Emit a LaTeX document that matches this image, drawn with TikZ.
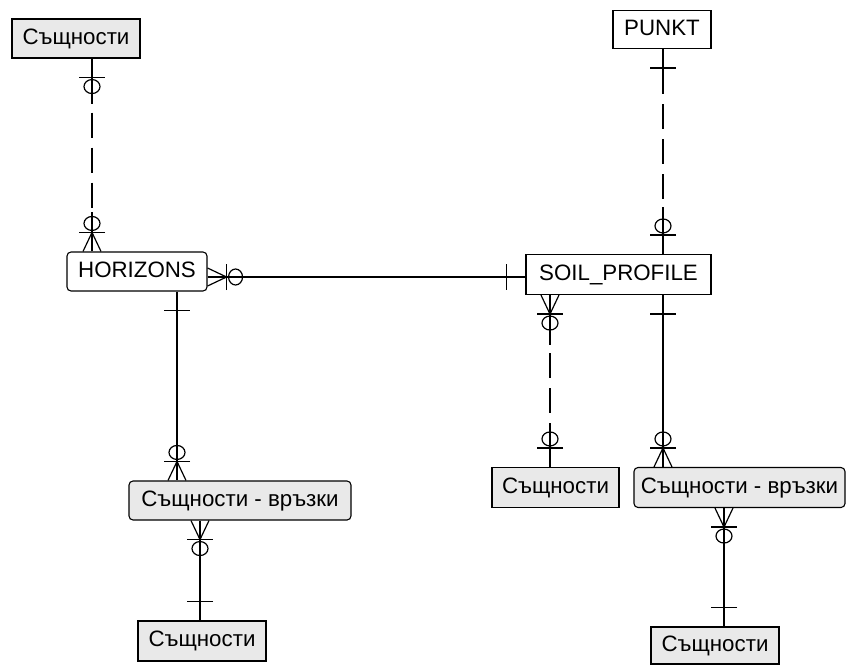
\documentclass[tikz,border=0pt]{standalone}
\usepackage{fontspec}
\setmainfont{Liberation Sans}
\definecolor{boxgray}{RGB}{233,233,233}
% relationship end markers, drawn in a local frame whose x axis points away from the entity
\newcommand\mkone[3]{%
  \begin{scope}[shift={(#1)},rotate=#2,x=1pt,y=1pt]
    \draw[rel] (0,0) -- (#3,0);
    \draw[rel] (19,-13) -- (19,13);
  \end{scope}}
\newcommand\mkzeroone[3]{%
  \begin{scope}[shift={(#1)},rotate=#2,x=1pt,y=1pt]
    \draw[rel] (0,0) -- (#3,0);
    \draw[rel] (19,-13) -- (19,13);
    \draw[rel] (28,0) ellipse[x radius=7,y radius=8];
  \end{scope}}
\newcommand\mkmany[3]{%
  \begin{scope}[shift={(#1)},rotate=#2,x=1pt,y=1pt]
    \draw[rel] (0,0) -- (#3,0);
    \draw[rel] (0,-9) -- (19,0) -- (0,9);
    \draw[rel] (19,-13) -- (19,13);
    \draw[rel] (28,0) ellipse[x radius=7,y radius=8];
  \end{scope}}
\begin{document}
\begin{tikzpicture}[x=1pt,y=-1pt,
  rel/.style={draw=black,line width=1.2pt},
  optrel/.style={rel,dash pattern=on 25pt off 10pt},
  ent/.style={draw=black,line width=1.1pt,inner sep=0pt,text=black,
    font=\fontsize{22.3}{25}\selectfont,text height=16pt,text depth=4.5pt},
  plain/.style={ent,fill=white},
  grayent/.style={ent,fill=boxgray},
  roundent/.style={rounded corners=4pt}]
\useasboundingbox (0,0) rectangle (847,665);

% entities
\node[grayent,minimum width=128pt,minimum height=39pt] (tl) at (76,38.5) {Същности};
\node[plain,minimum width=98pt,minimum height=38pt] (punkt) at (662,29.5) {PUNKT};
\node[plain,roundent,minimum width=140pt,minimum height=39pt] (hor) at (137,271.5) {HORIZONS};
\node[plain,minimum width=185pt,minimum height=40pt] (soil) at (618.5,274.5) {SOIL\_PROFILE};
\node[grayent,roundent,minimum width=222pt,minimum height=39pt] (lrel) at (240,500.5) {Същности - връзки};
\node[grayent,minimum width=127pt,minimum height=40pt] (mid) at (555.5,487.5) {Същности};
\node[grayent,roundent,minimum width=211pt,minimum height=40pt] (rrel) at (739.5,487.5) {Същности - връзки};
\node[grayent,minimum width=128pt,minimum height=40pt] (bl) at (202,641) {Същности};
\node[grayent,minimum width=128pt,minimum height=37pt] (br) at (715,645.5) {Същности};

% connector end points
\coordinate (a1) at ([xshift=16pt]tl.south);
\coordinate (a2) at ([xshift=-45pt]hor.north);
\coordinate (b1) at ([yshift=-5.5pt]hor.east);
\coordinate (b2) at ([yshift=-2.5pt]soil.west);
\coordinate (c1) at ([xshift=1pt]punkt.south);
\coordinate (c2) at ([xshift=44.5pt]soil.north);
\coordinate (d1) at ([xshift=-68.5pt]soil.south);
\coordinate (d2) at ([xshift=-5.5pt]mid.north);
\coordinate (e1) at ([xshift=44.5pt]soil.south);
\coordinate (e2) at ([xshift=-76.5pt]rrel.north);
\coordinate (f1) at ([xshift=40pt]hor.south);
\coordinate (f2) at ([xshift=-63pt]lrel.north);
\coordinate (g1) at ([xshift=-40pt]lrel.south);
\coordinate (g2) at ([xshift=-2pt]bl.north);
\coordinate (h1) at ([xshift=-15.5pt]rrel.south);
\coordinate (h2) at ([xshift=9pt]br.north);

% relationships
\draw[optrel,dash phase=16pt] (a1) -- (a2);
\mkzeroone{a1}{-90}{45}
\mkmany{a2}{90}{39}

\draw[rel] (b1) -- (b2);
\mkmany{b1}{0}{0}
\mkone{b2}{180}{0}

\draw[optrel,dash phase=15pt] (c1) -- (c2);
\mkone{c1}{-90}{45}
\mkzeroone{c2}{90}{47}

\draw[optrel,dash phase=12pt] (d1) -- (d2);
\mkmany{d1}{-90}{50}
\mkzeroone{d2}{90}{44}

\draw[rel] (e1) -- (e2);
\mkone{e1}{-90}{0}
\mkmany{e2}{90}{0}

\draw[rel] (f1) -- (f2);
\mkone{f1}{-90}{0}
\mkmany{f2}{90}{0}

\draw[rel] (g1) -- (g2);
\mkmany{g1}{-90}{0}
\mkone{g2}{90}{0}

\draw[rel] (h1) -- (h2);
\mkmany{h1}{-90}{0}
\mkone{h2}{90}{0}
\end{tikzpicture}
\end{document}
